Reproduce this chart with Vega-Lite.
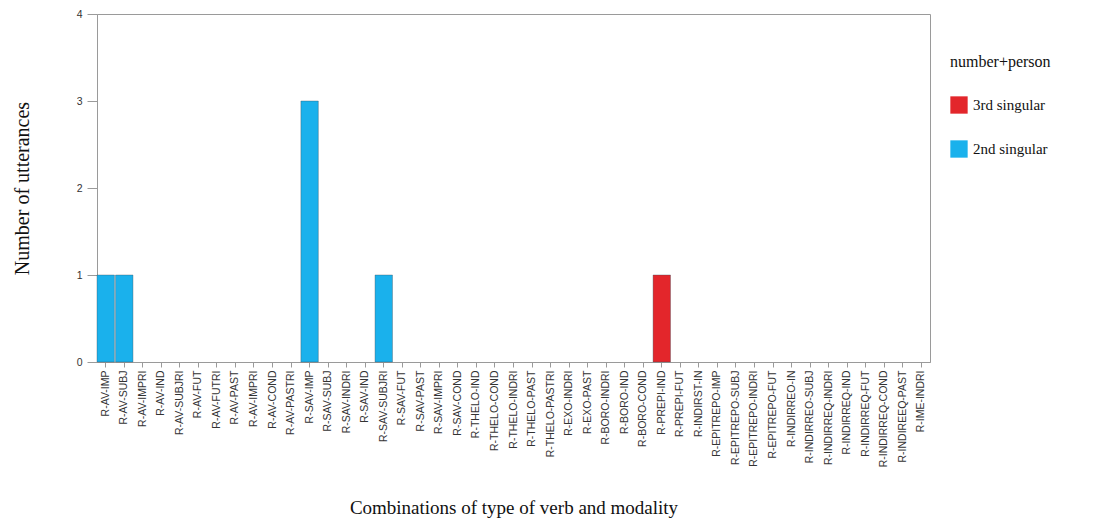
{
  "$schema": "https://vega.github.io/schema/vega-lite/v6.json",
  "autosize": {"type": "none"},
  "width": 833,
  "height": 348,
  "padding": {"left": 97, "top": 14, "right": 173, "bottom": 157},
  "background": "white",
  "config": {
    "view": {"stroke": "#9a9a9a", "strokeWidth": 1},
    "axis": {"grid": false, "domainColor": "#9a9a9a", "tickColor": "#9a9a9a", "labelFont": "Liberation Sans", "labelColor": "#333", "titleFont": "Liberation Serif", "titleFontWeight": "normal", "titleColor": "#111"}
  },
  "data": {
    "values": [
      {"combo": "R-AV-IMP", "count": 1, "person": "2nd singular"},
      {"combo": "R-AV-SUBJ", "count": 1, "person": "2nd singular"},
      {"combo": "R-AV-IMPRI", "count": 0, "person": "2nd singular"},
      {"combo": "R-AV-IND", "count": 0, "person": "2nd singular"},
      {"combo": "R-AV-SUBJRI", "count": 0, "person": "2nd singular"},
      {"combo": "R-AV-FUT", "count": 0, "person": "2nd singular"},
      {"combo": "R-AV-FUTRI", "count": 0, "person": "2nd singular"},
      {"combo": "R-AV-PAST", "count": 0, "person": "2nd singular"},
      {"combo": "R-AV-IMPRI ", "count": 0, "person": "2nd singular"},
      {"combo": "R-AV-COND", "count": 0, "person": "2nd singular"},
      {"combo": "R-AV-PASTRI", "count": 0, "person": "2nd singular"},
      {"combo": "R-SAV-IMP", "count": 3, "person": "2nd singular"},
      {"combo": "R-SAV-SUBJ", "count": 0, "person": "2nd singular"},
      {"combo": "R-SAV-INDRI", "count": 0, "person": "2nd singular"},
      {"combo": "R-SAV-IND", "count": 0, "person": "2nd singular"},
      {"combo": "R-SAV-SUBJRI", "count": 1, "person": "2nd singular"},
      {"combo": "R-SAV-FUT", "count": 0, "person": "2nd singular"},
      {"combo": "R-SAV-PAST", "count": 0, "person": "2nd singular"},
      {"combo": "R-SAV-IMPRI", "count": 0, "person": "2nd singular"},
      {"combo": "R-SAV-COND", "count": 0, "person": "2nd singular"},
      {"combo": "R-THELO-IND", "count": 0, "person": "2nd singular"},
      {"combo": "R-THELO-COND", "count": 0, "person": "2nd singular"},
      {"combo": "R-THELO-INDRI", "count": 0, "person": "2nd singular"},
      {"combo": "R-THELO-PAST", "count": 0, "person": "2nd singular"},
      {"combo": "R-THELO-PASTRI", "count": 0, "person": "2nd singular"},
      {"combo": "R-EXO-INDRI", "count": 0, "person": "2nd singular"},
      {"combo": "R-EXO-PAST", "count": 0, "person": "2nd singular"},
      {"combo": "R-BORO-INDRI", "count": 0, "person": "2nd singular"},
      {"combo": "R-BORO-IND", "count": 0, "person": "2nd singular"},
      {"combo": "R-BORO-COND", "count": 0, "person": "2nd singular"},
      {"combo": "R-PREPI-IND", "count": 1, "person": "3rd singular"},
      {"combo": "R-PREPI-FUT", "count": 0, "person": "2nd singular"},
      {"combo": "R-INDIRST-IN", "count": 0, "person": "2nd singular"},
      {"combo": "R-EPITREPO-IMP", "count": 0, "person": "2nd singular"},
      {"combo": "R-EPITREPO-SUBJ", "count": 0, "person": "2nd singular"},
      {"combo": "R-EPITREPO-INDRI", "count": 0, "person": "2nd singular"},
      {"combo": "R-EPITREPO-FUT", "count": 0, "person": "2nd singular"},
      {"combo": "R-INDIRREO-IN", "count": 0, "person": "2nd singular"},
      {"combo": "R-INDIRREO-SUBJ", "count": 0, "person": "2nd singular"},
      {"combo": "R-INDIRREQ-INDRI", "count": 0, "person": "2nd singular"},
      {"combo": "R-INDIRREQ-IND", "count": 0, "person": "2nd singular"},
      {"combo": "R-INDIRREQ-FUT", "count": 0, "person": "2nd singular"},
      {"combo": "R-INDIRREQ-COND", "count": 0, "person": "2nd singular"},
      {"combo": "R-INDIREEQ-PAST", "count": 0, "person": "2nd singular"},
      {"combo": "R-IME-INDRI", "count": 0, "person": "2nd singular"}
    ]
  },
  "transform": [{"filter": "datum.count > 0"}],
  "mark": {"type": "bar", "stroke": "#3a4a55", "strokeWidth": 0.6, "strokeOpacity": 0.6},
  "encoding": {
    "x": {
      "field": "combo",
      "type": "nominal",
      "sort": null,
      "scale": {"domain": ["R-AV-IMP","R-AV-SUBJ","R-AV-IMPRI","R-AV-IND","R-AV-SUBJRI","R-AV-FUT","R-AV-FUTRI","R-AV-PAST","R-AV-IMPRI ","R-AV-COND","R-AV-PASTRI","R-SAV-IMP","R-SAV-SUBJ","R-SAV-INDRI","R-SAV-IND","R-SAV-SUBJRI","R-SAV-FUT","R-SAV-PAST","R-SAV-IMPRI","R-SAV-COND","R-THELO-IND","R-THELO-COND","R-THELO-INDRI","R-THELO-PAST","R-THELO-PASTRI","R-EXO-INDRI","R-EXO-PAST","R-BORO-INDRI","R-BORO-IND","R-BORO-COND","R-PREPI-IND","R-PREPI-FUT","R-INDIRST-IN","R-EPITREPO-IMP","R-EPITREPO-SUBJ","R-EPITREPO-INDRI","R-EPITREPO-FUT","R-INDIRREO-IN","R-INDIRREO-SUBJ","R-INDIRREQ-INDRI","R-INDIRREQ-IND","R-INDIRREQ-FUT","R-INDIRREQ-COND","R-INDIREEQ-PAST","R-IME-INDRI"], "paddingInner": 0.06, "paddingOuter": 0},
      "axis": {
        "title": "Combinations of type of verb and modality",
        "titleFontSize": 19,
        "titlePadding": 32,
        "labelAngle": -90,
        "labelFontSize": 10.5,
        "labelPadding": 3,
        "tickSize": 5,
        "labelOverlap": false,
        "domain": true
      }
    },
    "y": {
      "field": "count",
      "type": "quantitative",
      "scale": {"domain": [0, 4], "nice": false},
      "axis": {
        "title": "Number of utterances",
        "titleFontSize": 20,
        "titlePadding": 44,
        "values": [0, 1, 2, 3, 4],
        "format": "d",
        "labelFontSize": 10.5,
        "tickSize": 10,
        "labelPadding": 5
      }
    },
    "color": {
      "field": "person",
      "type": "nominal",
      "scale": {"domain": ["3rd singular", "2nd singular"], "range": ["#e3262b", "#1ab1ec"]},
      "legend": {
        "title": "number+person",
        "orient": "none",
        "legendX": 853,
        "legendY": 40,
        "titleFont": "Liberation Serif",
        "titleFontSize": 16,
        "titleFontWeight": "normal",
        "titleColor": "#111",
        "titlePadding": 26,
        "labelFont": "Liberation Serif",
        "labelFontSize": 15,
        "labelColor": "#111",
        "symbolType": "square",
        "symbolSize": 300,
        "symbolStrokeWidth": 0,
        "rowPadding": 26,
        "labelOffset": 5
      }
    }
  }
}
